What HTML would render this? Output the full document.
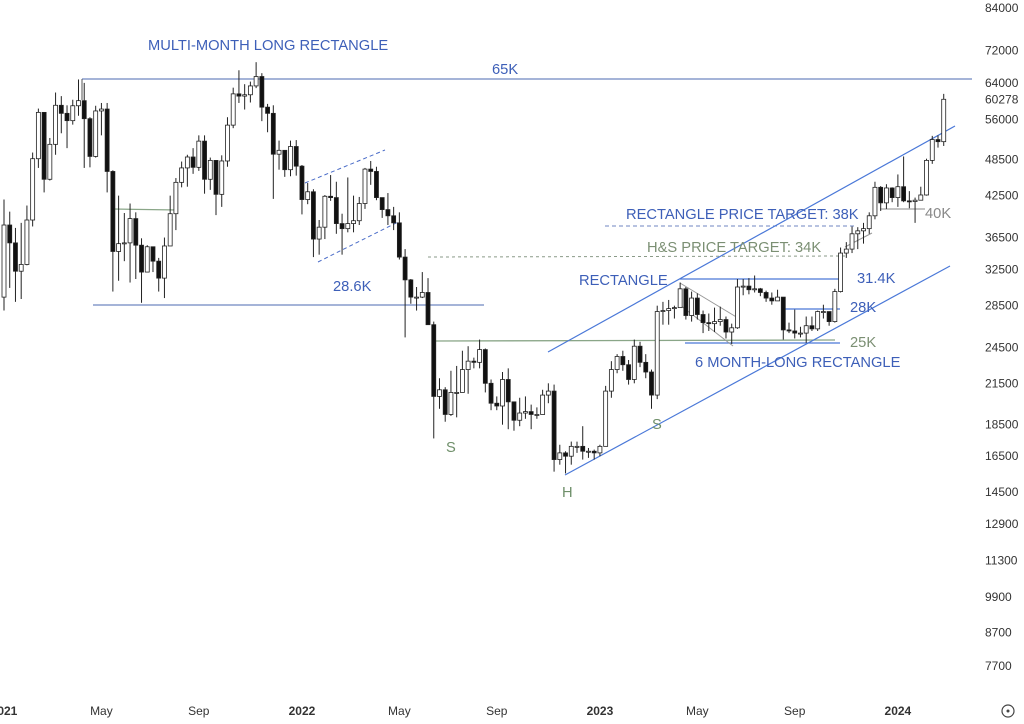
<!DOCTYPE html>
<html><head><meta charset="utf-8">
<style>
html,body{margin:0;padding:0;background:#fff;}
#wrap{position:relative;width:1024px;height:724px;overflow:hidden;font-family:"Liberation Sans",sans-serif;}
svg text{font-family:"Liberation Sans",sans-serif;}
</style></head>
<body>
<div id="wrap">
<svg id="chart" width="1024" height="724">
<g id="annot">
  <line x1="82" y1="79" x2="972" y2="79" stroke="#6f86c0" stroke-width="1.3"/>
  <line x1="82" y1="79" x2="82" y2="100" stroke="#555" stroke-width="1"/>
  <line x1="93" y1="305" x2="484" y2="305" stroke="#6f86c0" stroke-width="1.3"/>
  <line x1="113" y1="209" x2="178" y2="210" stroke="#8aa688" stroke-width="1.2"/>
  <line x1="305" y1="183" x2="385" y2="150" stroke="#4a6cc8" stroke-width="1" stroke-dasharray="4,3"/>
  <line x1="318" y1="262" x2="398" y2="222" stroke="#4a6cc8" stroke-width="1" stroke-dasharray="4,3"/>
  <line x1="435" y1="341" x2="835" y2="340" stroke="#8aa688" stroke-width="1.3"/>
  <line x1="428" y1="257" x2="845" y2="256" stroke="#8a9a88" stroke-width="1" stroke-dasharray="3,3"/>
  <line x1="605" y1="226" x2="855" y2="226" stroke="#6f86c0" stroke-width="1" stroke-dasharray="4,3"/>
  <line x1="548" y1="352" x2="955" y2="126" stroke="#4a78d8" stroke-width="1.2"/>
  <line x1="565" y1="475" x2="950" y2="266" stroke="#4a78d8" stroke-width="1.2"/>
  <line x1="680" y1="279" x2="840" y2="279" stroke="#4a78d8" stroke-width="1.2"/>
  <line x1="785" y1="309" x2="840" y2="309" stroke="#4a78d8" stroke-width="1.2"/>
  <line x1="685" y1="343" x2="840" y2="343" stroke="#4a78d8" stroke-width="1.2"/>
  <line x1="680" y1="283" x2="738" y2="318" stroke="#999" stroke-width="1"/>
  <line x1="680" y1="305" x2="733" y2="346" stroke="#999" stroke-width="1"/>
  <line x1="880" y1="209" x2="925" y2="209" stroke="#888" stroke-width="1"/>
  <line x1="845" y1="247" x2="872" y2="233" stroke="#999" stroke-width="1"/>
</g>
<g id="candles"></g>
<g id="labels" font-size="14.7">
  <text x="148" y="50" fill="#3d5fb8">MULTI-MONTH LONG RECTANGLE</text>
  <text x="492" y="74" fill="#3d5fb8">65K</text>
  <text x="333" y="291" fill="#3d5fb8">28.6K</text>
  <text x="626" y="219" fill="#3d5fb8">RECTANGLE PRICE TARGET: 38K</text>
  <text x="647" y="252" fill="#7b8f73">H&amp;S PRICE TARGET: 34K</text>
  <text x="579" y="285" fill="#3d5fb8">RECTANGLE</text>
  <text x="857" y="283" fill="#3d5fb8">31.4K</text>
  <text x="850" y="312" fill="#3d5fb8">28K</text>
  <text x="850" y="347" fill="#7b8f73">25K</text>
  <text x="695" y="367" fill="#3d5fb8">6 MONTH-LONG RECTANGLE</text>
  <text x="925" y="218" fill="#888">40K</text>
  <text x="446" y="452" fill="#6f8f6a">S</text>
  <text x="562" y="497" fill="#6f8f6a">H</text>
  <text x="652" y="429" fill="#6f8f6a">S</text>
</g>
<g id="yaxis" font-size="12" fill="#333"></g>
<g id="xaxis" font-size="12" fill="#333"></g>
<circle cx="1008" cy="711" r="6" fill="none" stroke="#444" stroke-width="1.2"/>
<circle cx="1008" cy="711" r="1.5" fill="#444"/>
</svg>
</div>
<script>
const firstOpen = 29.4;
const closes = [38.2,35.8,32.3,33.1,38.9,48.6,57.5,45.1,51.2,59.0,57.3,55.8,58.9,60.0,56.2,49.0,57.8,58.2,46.4,34.7,35.7,35.8,39.1,35.5,32.2,35.3,33.5,31.5,35.4,39.8,44.6,47.0,48.9,47.1,51.8,45.1,48.3,42.7,48.2,54.9,61.5,61.0,61.3,63.3,65.5,58.6,57.3,49.4,50.1,46.7,50.8,47.3,
41.9,43.1,36.3,37.9,42.4,42.2,38.4,37.7,38.4,38.8,41.3,46.8,46.4,42.2,40.4,39.5,38.5,34.0,31.3,29.4,29.4,29.9,26.6,20.5,21.0,19.2,20.8,20.8,22.6,23.3,23.2,24.3,21.5,20.0,19.8,21.8,20.1,18.8,19.3,19.4,19.2,19.2,20.6,20.9,16.3,16.7,16.5,17.1,17.1,16.8,16.8,16.7,
17.1,20.9,22.6,23.7,23.0,21.8,24.6,23.2,22.4,20.6,27.9,28.0,28.2,28.3,30.3,27.5,29.3,27.6,26.8,26.7,26.9,27.1,25.9,26.3,30.5,30.6,30.2,30.3,29.9,29.3,29.0,29.4,26.1,26.0,25.8,25.8,26.5,26.2,27.9,27.9,26.9,30.0,34.5,35.0,37.0,37.4,37.7,39.5,43.8,41.4,43.7,42.2,43.9,41.7,41.6,41.8,42.6,48.3,52.1,51.7,60.3];
const highs = [41.9,40.1,37.8,38.5,41.0,49.7,58.3,57.5,52.4,61.8,61.0,59.0,60.2,64.8,64.0,56.5,58.9,59.5,59.5,46.6,42.5,39.9,41.3,40.0,36.4,35.5,35.0,33.9,36.5,42.5,45.3,48.1,49.3,50.5,52.9,52.9,48.8,47.0,49.2,56.5,62.9,67.0,63.7,64.3,69.0,66.3,59.3,59.0,51.9,50.0,51.9,52.0,
47.5,44.5,43.5,38.9,42.6,45.8,44.7,39.8,45.4,42.5,42.3,47.0,48.2,47.2,41.6,42.9,40.8,40.0,35.0,31.4,30.5,32.2,31.5,26.9,21.9,21.2,22.5,22.9,24.2,24.6,23.6,25.2,24.4,21.8,20.5,22.4,22.7,19.9,20.4,20.5,19.9,19.7,21.0,21.5,21.4,17.2,16.8,17.4,17.4,18.4,17.0,16.9,
17.2,21.3,23.3,23.9,24.2,23.4,25.2,25.0,23.9,22.6,28.5,28.9,29.1,28.5,31.0,30.5,30.0,29.8,28.0,27.7,28.3,28.4,27.4,26.7,31.4,31.4,31.5,31.8,30.4,30.1,29.9,30.2,29.4,26.8,28.1,26.4,27.4,27.4,28.0,28.6,27.9,30.3,35.2,35.9,38.0,37.9,38.5,40.0,44.7,44.0,44.3,43.8,45.9,49.0,43.2,42.2,43.9,48.6,52.8,52.9,61.5];
const lows = [28.0,30.4,28.9,29.2,33.0,38.0,47.0,43.0,44.9,49.3,53.3,50.5,55.0,56.8,47.0,47.1,48.8,52.9,43.0,30.0,31.2,33.5,31.0,31.4,28.8,32.3,32.2,30.0,29.3,36.4,37.5,43.8,43.9,46.0,46.5,42.8,43.4,39.6,40.8,47.2,54.3,59.5,58.1,59.6,62.8,55.7,53.5,42.0,46.7,45.5,45.6,45.7,
39.7,41.2,34.0,34.3,36.3,41.7,37.0,34.3,37.2,37.2,38.2,40.5,44.2,41.8,39.2,38.2,37.5,33.7,25.4,28.7,28.0,29.3,26.6,17.6,19.6,18.7,19.1,19.0,20.8,20.7,22.7,22.7,20.8,19.5,19.5,18.5,18.2,18.1,18.4,18.9,18.2,18.9,19.2,20.0,15.6,16.0,15.5,16.0,16.7,16.3,16.4,16.3,
16.5,17.1,20.4,22.3,22.5,21.4,21.5,22.8,21.9,19.6,20.3,26.6,26.6,27.2,28.3,27.1,26.9,27.1,25.8,26.0,25.9,26.5,25.3,24.8,26.2,29.6,29.7,29.9,29.5,28.9,28.6,29.0,25.2,25.8,25.3,25.4,24.9,26.0,26.0,27.2,26.5,26.8,29.9,33.9,34.5,35.0,35.7,37.0,39.0,40.2,40.5,41.5,40.8,41.5,40.6,38.5,41.9,42.5,47.7,50.6,50.9];
const yTicks = [84000,72000,64000,60278,56000,48500,42500,36500,32500,28500,24500,21500,18500,16500,14500,12900,11300,9900,8700,7700];
const xTickLabels = ["2021","May","Sep","2022","May","Sep","2023","May","Sep","2024"];
const xTickWeeks = [0,17,34,52,69,86,104,121,138,156];

const NS = "http://www.w3.org/2000/svg";
function yS(v){ return 8 + (Math.log(84000) - Math.log(v)) * 275.4; }
function xS(i){ return 4 + i * 5.73; }

const cg = document.getElementById('candles');
for (let i = 0; i < closes.length; i++) {
  const o = i === 0 ? firstOpen : closes[i-1];
  const c = closes[i], h = highs[i], l = lows[i];
  const x = xS(i);
  const wick = document.createElementNS(NS, 'line');
  wick.setAttribute('x1', x); wick.setAttribute('x2', x);
  wick.setAttribute('y1', yS(Math.max(h, o, c) * 1000)); wick.setAttribute('y2', yS(Math.min(l, o, c) * 1000));
  wick.setAttribute('stroke', '#222'); wick.setAttribute('stroke-width', '1');
  
  
  cg.appendChild(wick);
  const top = yS(Math.max(o, c) * 1000), bot = yS(Math.min(o, c) * 1000);
  const body = document.createElementNS(NS, 'rect');
  body.setAttribute('x', x - 2); body.setAttribute('width', 4);
  body.setAttribute('y', top); body.setAttribute('height', Math.max(1, bot - top));
  body.setAttribute('fill', c >= o ? '#fff' : '#111');
  body.setAttribute('stroke', '#222'); body.setAttribute('stroke-width', '0.8');
  
  
  cg.appendChild(body);
}

const ya = document.getElementById('yaxis');
yTicks.forEach(v => {
  const t = document.createElementNS(NS, 'text');
  t.setAttribute('x', 985); t.setAttribute('y', yS(v) + 4);
  t.textContent = String(v);
  
  
  ya.appendChild(t);
});
const xa = document.getElementById('xaxis');
xTickLabels.forEach((lab, k) => {
  const t = document.createElementNS(NS, 'text');
  t.setAttribute('x', xS(xTickWeeks[k])); t.setAttribute('y', 715);
  t.setAttribute('text-anchor', 'middle');
  if (/^20/.test(lab)) t.setAttribute('font-weight', 'bold');
  t.textContent = lab;
  
  
  xa.appendChild(t);
});
</script>
</body></html>
